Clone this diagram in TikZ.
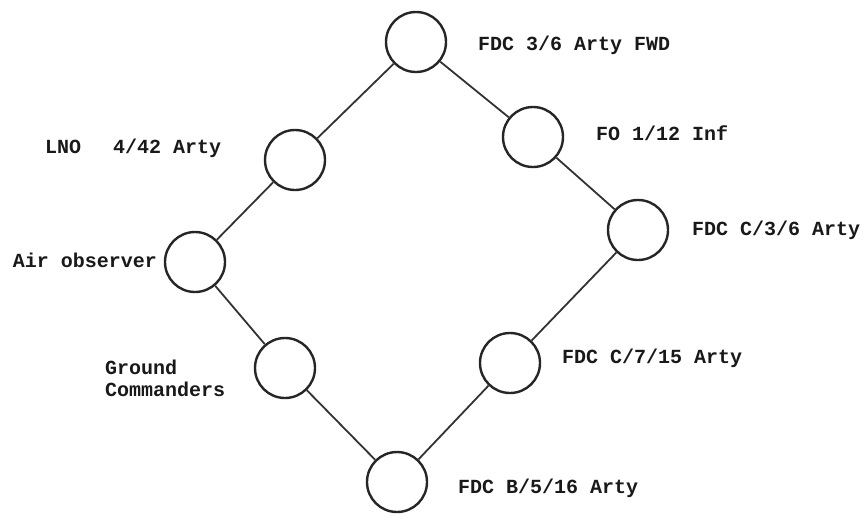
\documentclass[tikz,border=0pt]{standalone}
\usepackage{fontspec}
\setmonofont{Liberation Mono}
\begin{document}
\begin{tikzpicture}[x=1pt,y=-1pt,
  stn/.style={circle,draw=black!85,line width=2.4pt,minimum size=60pt,inner sep=0pt},
  link/.style={draw=black!80,line width=1.8pt},
  lbl/.style={font=\ttfamily\bfseries\fontsize{20}{22}\selectfont,text=black!90,inner sep=0pt}]
\useasboundingbox (0,0) rectangle (864,515);
\node[stn] (top) at (416,42) {};
\node[stn] (fo) at (533,137) {};
\node[stn] (c36) at (638,230) {};
\node[stn] (c715) at (510,363) {};
\node[stn] (b516) at (397,482) {};
\node[stn] (gc) at (285,368) {};
\node[stn] (air) at (195,262) {};
\node[stn] (lno) at (295,160) {};
\draw[link] (top) -- (fo);
\draw[link] (fo) -- (c36);
\draw[link] (c36) -- (c715);
\draw[link] (c715) -- (b516);
\draw[link] (b516) -- (gc);
\draw[link] (gc) -- (air);
\draw[link] (air) -- (lno);
\draw[link] (lno) -- (top);
\node[lbl,anchor=west] (ltop) at (478,45) {FDC 3/6 Arty FWD};
\node[lbl,anchor=west] (lfo) at (596,133) {FO 1/12 Inf};
\node[lbl,anchor=west] (lc36) at (692,230) {FDC C/3/6 Arty};
\node[lbl,anchor=west] (lc715) at (562,358) {FDC C/7/15 Arty};
\node[lbl,anchor=west] (lb516) at (458,488) {FDC B/5/16 Arty};
\node[lbl,anchor=west,align=left] (lgc) at (105,378) {Ground\\Commanders};
\node[lbl,anchor=east] (lair) at (157,260) {Air observer};
\node[lbl,anchor=west] (llno) at (45,148) {LNO\hspace{32pt}4/42 Arty};
\end{tikzpicture}
\end{document}
